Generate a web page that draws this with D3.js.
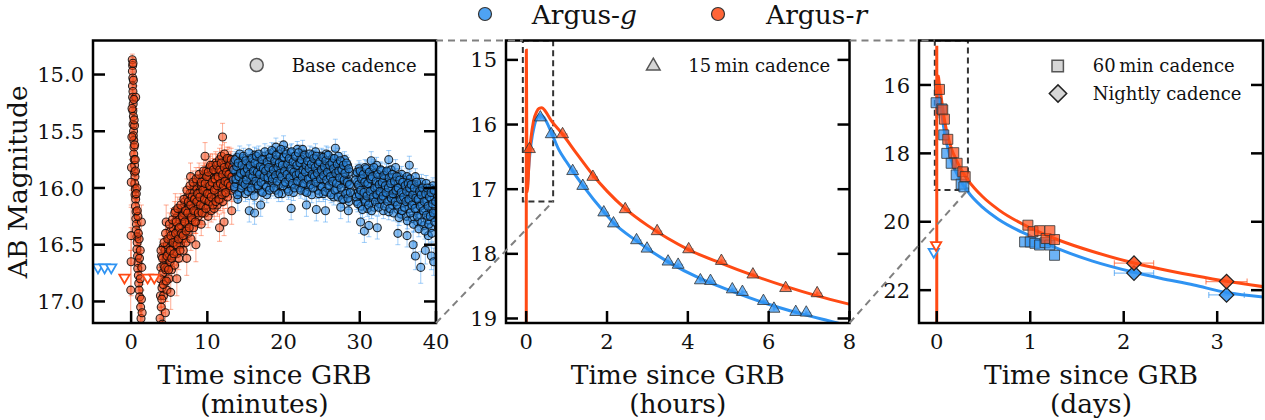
<!DOCTYPE html>
<html>
<head>
<meta charset="utf-8">
<script src="https://cdn.jsdelivr.net/npm/d3@7/dist/d3.min.js"></script>
<style>
html,body{margin:0;padding:0;background:#fff;}
svg{display:block;}
</style>
</head>
<body>
<svg id="chart" width="1265" height="420"></svg>
<script>
// ================= DATA =================
const minuteTicks = [0, 10, 20, 30, 40];
const hourTicks = [0, 2, 4, 6, 8];
const dayTicks = [0, 1, 2, 3];
const magTicks1 = [15.0, 15.5, 16.0, 16.5, 17.0];
const magTicks2 = [15, 16, 17, 18, 19];
const magTicks3 = [16, 18, 20, 22];
const unitLabels = ["(minutes)", "(hours)", "(days)"];
const xLabel = "Time since GRB";
const yLabel = "AB Magnitude";
const bandNames = ["g", "r"];
const cadenceLabels = ["Base cadence", "15\u2009min cadence", "60\u2009min cadence", "Nightly cadence"];

// base cadence (minutes, mag[, err])
const baseErrG = 0.07, baseErrR = 0.1;
const baseRspike = [[0.15,14.87,0.05],[0.2,14.92,0.05],[0.17,14.97,0.05],[0.22,15.03,0.05],[0.18,15.1,0.05],[0.24,15.15,0.06],[0.2,15.2,0.06],[0.27,15.26,0.06],[0.23,15.32,0.06],[0.3,15.37,0.06],[0.26,15.44,0.06],[0.32,15.5,0.07],[0.29,15.54,0.07],[0.35,15.58,0.07],[0.38,15.64,0.07],[0.34,15.7,0.07],[0.41,15.75,0.08],[0.45,15.8,0.08],[0.42,15.86,0.08],[0.5,15.9,0.08],[0.47,15.96,0.08],[0.55,16.01,0.09],[0.52,16.06,0.09],[0.6,16.1,0.09],[0.57,16.16,0.09],[0.65,16.21,0.1],[0.62,16.27,0.1],[0.7,16.32,0.1],[0.67,16.37,0.1],[0.75,16.43,0.11],[0.8,16.48,0.11],[0.77,16.54,0.11],[0.85,16.6,0.12],[0.9,16.66,0.12],[0.87,16.71,0.12],[0.95,16.77,0.13],[1.0,16.84,0.13],[1.05,16.9,0.14],[1.12,16.96,0.14],[1.25,17.05,0.15],[1.3,17.15,0.15],
  [0.0,16.42,0.25],[0.0,16.65,0.3],[-0.05,16.9,0.35],[0.02,15.95,0.2],[0.05,15.82,0.2],[0.1,15.55,0.15],[0.12,15.3,0.12],[0.45,15.45,0.1],[0.55,15.75,0.1],[0.6,15.2,0.1],[1.4,16.7,0.15],[1.45,17.1,0.2],[1.35,16.3,0.15],[1.2,16.55,0.15],[0.9,16.25,0.12],[0.75,16.0,0.1],[1.05,16.45,0.12],
  [0.25,14.9,0.05],[0.3,15.05,0.05],[0.36,15.22,0.06],[0.4,15.4,0.07],[0.46,15.62,0.07],[0.58,15.85,0.08],[0.68,16.05,0.09],[0.8,16.2,0.1],[0.95,16.4,0.11],[1.1,16.62,0.12],[1.2,16.8,0.13],[1.35,16.98,0.15]];
const baseRrise = [[3.8,17.15],[3.85,16.95],[3.9,16.7],[3.95,17.05],[4.0,16.6],[4.05,16.88],[4.1,17.2],[4.15,16.75],[4.2,16.52],[4.25,16.95],[4.3,16.68],[4.4,16.82],[4.45,16.55],[4.5,17.1],[4.55,16.72],[4.6,16.62],[4.7,16.9],[4.75,16.5],[4.8,16.7],[4.9,16.58],[4.95,16.8],[5.0,16.45],[5.1,16.65],[5.15,16.38],[5.2,16.55],[5.3,16.72],[5.35,16.48],[5.4,16.6],[5.5,16.35],[5.55,16.52],[5.6,16.44],[5.7,16.68],[5.75,16.3],[5.8,16.5],[5.9,16.4],[6.0,16.58],[6.05,16.25],[6.1,16.46],[6.2,16.36],[6.25,16.62],[6.3,16.28],[6.4,16.42],[6.45,16.2],[6.5,16.5],[6.6,16.33],[6.65,16.18],[6.7,16.45],[6.8,16.27],[6.85,16.55],[6.9,16.22],[7.0,16.38],[7.05,16.12],[7.1,16.3],[7.2,16.48],[7.25,16.2],[7.3,16.35],[7.4,16.08],[7.45,16.26],[7.5,16.4],[7.6,16.16],[7.65,16.3],[7.7,16.05],[7.8,16.22],[7.85,16.45],[7.9,16.12],[8.0,16.28],[8.05,16.02],[8.1,16.18],[8.2,16.35],[8.25,16.1],[8.3,15.98],[8.4,16.22],[8.45,16.08],[8.5,16.3],[8.6,16.0],[8.65,16.15],[8.7,15.95],[8.8,16.25],[8.85,16.05],[8.9,16.12],[9.0,15.92],[9.05,16.2],[9.1,16.02],[9.2,16.32],[9.25,15.98],[9.3,16.1],[9.4,15.9],[9.45,16.16],[9.5,16.04],[9.6,15.88],[9.65,16.22],[9.7,16.0],[9.8,16.1],[9.85,15.85],[9.9,16.05],[10.0,16.15],[10.05,15.95],[10.1,16.25],[10.2,15.9],[10.25,16.05],[10.3,15.82],[10.4,16.12],[10.45,15.98],[10.5,16.2],[10.6,15.88],[10.65,16.03],[10.7,15.8],[10.8,16.1],[10.85,15.93],[10.9,16.18],[11.0,15.85],[11.05,16.0],[11.1,15.78],[11.2,16.08],[11.25,15.9],[11.3,16.15],[11.4,15.83],[11.45,15.97],[11.5,16.05],[11.6,15.75],[11.65,15.92],[11.7,16.1],[11.8,15.86],[11.85,15.72],[11.9,16.0],[12.0,15.9],[12.05,16.12],[12.1,15.8],[12.2,15.95],[12.25,15.7],[12.3,16.05],[12.4,15.85],[12.45,15.98],[12.5,15.76],[12.6,15.92],[12.65,16.08],[12.7,15.82],[12.8,15.95],[12.85,15.74],[12.9,16.0],[13.0,15.86],[13.05,15.78],[13.1,15.93],[13.2,15.84],[13.25,16.02],[13.3,15.9],
  [4.2,17.3,0.2],[5.2,16.92,0.15],[6.0,16.8,0.15],[7.3,16.62,0.15],[8.5,16.5,0.15],[11.6,16.35,0.12],[12.2,16.3,0.12],[12.0,15.55,0.12],[9.7,15.72,0.12],[7.8,15.9,0.12],[13.2,16.2,0.12],[4.6,16.3,0.15],[5.8,16.2,0.15]];
const baseRrise2 = [[3.82,16.8],[3.92,16.55],[4.02,16.98],[4.12,16.62],[4.22,16.85],[4.32,16.48],[4.42,16.7],[4.52,16.4],[4.62,16.82],[4.72,16.6],[4.82,16.45],[4.92,16.72],[5.02,16.32],[5.12,16.55],[5.22,16.42],[5.32,16.62],[5.42,16.28],[5.52,16.48],[5.62,16.58],[5.72,16.22],[5.82,16.4],[5.92,16.3],[6.02,16.5],[6.12,16.18],[6.22,16.45],[6.32,16.35],[6.42,16.55],[6.52,16.15],[6.62,16.4],[6.72,16.25],[6.82,16.42],[6.92,16.1],[7.02,16.3],[7.12,16.2],[7.22,16.38],[7.32,16.02],[7.42,16.22],[7.52,16.12],[7.62,16.35],[7.72,15.98],[7.82,16.15],[7.92,16.26],[8.02,16.08],[8.12,15.95],[8.22,16.2],[8.32,16.1],[8.42,16.3],[8.52,15.92],[8.62,16.12],[8.72,16.05],[8.82,16.22],[8.92,15.88],[9.02,16.08],[9.12,16.15],[9.22,15.95],[9.32,16.22],[9.42,16.02],[9.52,15.85],[9.62,16.1],[9.72,15.96],[9.82,16.18],[9.92,15.9],[10.02,16.05],[10.12,15.86],[10.22,16.12],[10.32,15.98],[10.42,15.8],[10.52,16.08],[10.62,15.95],[10.72,16.15],[10.82,15.84],[10.92,16.02],[11.02,15.92],[11.12,16.12],[11.22,15.8],[11.32,15.98],[11.42,15.9],[11.52,16.1],[11.62,15.84],[11.72,15.96],[11.82,15.78],[11.92,16.06],[12.02,15.88],[12.12,15.98],[12.22,15.82],[12.32,15.94],[12.42,16.04],[12.52,15.86],[12.62,15.74],[12.72,15.96],[12.82,15.88],[12.92,15.8],[13.02,15.98],[13.12,15.75],[13.22,15.9],[13.32,15.82]];
const baseG = [[13.4,15.93],[13.5,15.77],[13.6,16.01],[13.7,15.86],[13.8,15.96],[13.9,15.73],[14.0,15.89],[14.1,15.81],[14.2,16.04],[14.3,15.76],[14.4,15.94],[14.5,15.88],[14.6,15.98],[14.7,15.74],[14.8,15.91],[14.9,15.83],[15.0,16.05],[15.1,15.78],[15.2,15.86],[15.3,15.99],[15.4,15.81],[15.5,15.96],[15.6,15.74],[15.7,15.91],[15.8,15.84],[15.9,16.02],[16.0,15.77],[16.1,15.94],[16.2,15.71],[16.3,15.89],[16.4,15.97],[16.5,15.78],[16.6,16.0],[16.7,15.82],[16.8,15.92],[16.9,15.74],[17.0,15.86],[17.1,16.03],[17.2,15.79],[17.3,15.89],[17.4,15.97],[17.5,15.72],[17.6,15.9],[17.7,15.8],[17.8,16.06],[17.9,15.83],[18.0,15.93],[18.1,15.7],[18.2,15.87],[18.3,16.0],[18.4,15.76],[18.5,15.95],[18.6,15.81],[18.7,15.68],[18.8,15.91],[18.9,15.85],[19.0,16.02],[19.1,15.75],[19.2,15.88],[19.3,15.79],[19.4,15.97],[19.5,15.7],[19.6,15.92],[19.7,15.83],[19.8,16.05],[19.9,15.73],[20.0,15.86],[20.1,15.96],[20.2,15.67],[20.3,15.9],[20.4,15.8],[20.5,16.01],[20.6,15.76],[20.7,15.93],[20.8,15.85],[20.9,15.69],[21.0,15.98],[21.1,15.78],[21.2,15.89],[21.3,16.04],[21.4,15.72],[21.5,15.87],[21.6,15.81],[21.7,15.95],[21.8,15.66],[21.9,15.9],[22.0,15.84],[22.1,16.0],[22.2,15.74],[22.3,15.92],[22.4,15.79],[22.5,15.97],[22.6,15.7],[22.7,15.88],[22.8,16.03],[22.9,15.8],[23.0,15.93],[23.1,15.73],[23.2,15.86],[23.3,15.99],[23.4,15.77],[23.5,15.91],[23.6,15.83],[23.7,16.06],[23.8,15.71],[23.9,15.89],[24.0,15.8],[24.1,15.96],[24.2,15.68],[24.3,15.92],[24.4,15.85],[24.5,16.02],[24.6,15.75],[24.7,15.9],[24.8,15.82],[24.9,15.98],[25.0,15.72],[25.1,15.87],[25.2,16.05],[25.3,15.79],[25.4,15.94],[25.5,15.84],[25.6,15.7],[25.7,16.0],[25.8,15.81],[25.9,15.91],[26.0,15.76],[26.1,16.04],[26.2,15.86],[26.3,15.95],[26.4,15.74],[26.5,15.89],[26.6,16.08],[26.7,15.8],[26.8,15.93],[26.9,15.78],[27.0,16.01],[27.1,15.85],[27.2,15.72],[27.3,15.97],[27.4,15.83],[27.5,16.06],[27.6,15.77],[27.7,15.92],[27.8,15.88],[27.9,16.1],[28.0,15.75],[28.1,15.96],[28.2,15.84],[28.3,16.03],[28.4,15.8],[28.5,15.94],[28.6,16.12],[28.7,15.86],[28.8,15.98],
  [15.5,16.2,0.1],[16.2,16.22,0.1],[21.0,16.18,0.1],[23.0,16.15,0.1],[25.5,16.2,0.1],[27.5,16.17,0.1],[19.0,15.64,0.08],[20.0,15.62,0.08],[22.5,15.66,0.08],[17.0,16.15,0.1],[26.8,15.65,0.08],[24.3,16.19,0.1],[14.0,16.1,0.1],[28.5,16.2,0.1],
  [29.4,16.05],[29.5,15.88],[29.6,16.12],[29.7,15.95],[29.8,16.04],[29.9,15.83],[30.0,16.0],[30.1,15.9],[30.2,16.16],[30.3,15.86],[30.4,16.07],[30.5,15.96],[30.6,16.1],[30.7,15.82],[30.8,16.01],[30.9,15.92],[31.0,16.18],[31.1,15.88],[31.2,15.97],[31.3,16.13],[31.4,15.9],[31.5,16.06],[31.6,15.84],[31.7,16.02],[31.8,15.94],[31.9,16.17],[32.0,15.87],[32.1,16.05],[32.2,15.8],[32.3,15.99],[32.4,16.09],[32.5,15.9],[32.6,16.14],[32.7,15.93],[32.8,16.04],[32.9,15.85],[33.0,15.98],[33.1,16.2],[33.2,15.92],[33.3,16.02],[33.4,16.1],[33.5,15.86],[33.6,16.05],[33.7,15.95],[33.8,16.21],[33.9,15.96],[34.0,16.08],[34.1,15.84],[34.2,16.01],[34.3,16.15],[34.4,15.91],[34.5,16.1],[34.6,15.97],[34.7,15.82],[34.8,16.06],[34.9,16.0],[35.0,16.19],[35.1,15.9],[35.2,16.05],[35.3,15.96],[35.4,16.23],[35.5,15.88],[35.6,16.03],[35.7,16.13],[35.8,15.93],[35.9,16.09],[36.0,15.99],[36.1,16.25],[36.2,15.9],[36.3,16.07],[36.4,15.95],[36.5,16.18],[36.6,15.92],[36.7,16.11],[36.8,16.02],[36.9,16.27],[37.0,15.97],[37.1,16.14],[37.2,16.03],[37.3,15.9],[37.4,16.2],[37.5,16.06],[37.6,16.3],[37.7,15.98],[37.8,16.12],[37.9,16.0],[38.0,16.24],[38.1,15.95],[38.2,16.15],[38.3,16.07],[38.4,16.33],[38.5,16.02],[38.6,16.19],[38.7,15.96],[38.8,16.11],[38.9,16.28],[39.0,16.04],[39.1,16.21],[39.2,16.0],[39.3,16.35],[39.4,16.1],[39.5,16.17],[39.6,15.98],[39.7,16.26],[39.8,16.08],[39.9,16.22],
  [30.1,16.3,0.1],[30.6,16.38,0.1],[31.2,16.33,0.1],[36.2,16.42,0.1],[37.0,16.5,0.12],[37.3,16.6,0.12],[38.0,16.7,0.14],[38.6,16.55,0.12],[39.4,16.6,0.12],[39.7,16.65,0.12],[39.0,16.42,0.1],[35.0,16.4,0.1],[33.8,15.75,0.08],[31.5,15.76,0.08],[36.5,15.8,0.08],[32.3,16.35,0.1]];
const baseG2 = [[13.45,15.84],[13.55,15.99],[13.65,15.75],[13.75,15.92],[13.85,15.81],[13.95,16.06],[14.05,15.78],[14.15,15.9],[14.25,15.7],[14.35,15.87],[14.45,16.0],[14.55,15.8],[14.65,15.95],[14.75,15.72],[14.85,15.86],[14.95,15.97],[15.05,15.76],[15.15,15.93],[15.25,15.83],[15.35,16.03],[15.45,15.69],[15.55,15.88],[15.65,15.8],[15.75,16.0],[15.85,15.74],[15.95,15.9],[16.05,15.85],[16.15,16.07],[16.25,15.78],[16.35,15.94],[16.45,15.72],[16.55,15.86],[16.65,15.98],[16.75,15.7],[16.85,15.88],[16.95,15.81],[17.05,15.95],[17.15,15.75],[17.25,16.04],[17.35,15.83],[17.45,15.9],[17.55,15.68],[17.65,15.85],[17.75,15.99],[17.85,15.77],[17.95,15.91],[18.05,15.82],[18.15,16.02],[18.25,15.73],[18.35,15.88],[18.45,15.67],[18.55,15.92],[18.65,15.84],[18.75,16.0],[18.85,15.76],[18.95,15.89],[19.05,15.71],[19.15,15.94],[19.25,15.82],[19.35,16.05],[19.45,15.78],[19.55,15.87],[19.65,15.66],[19.75,15.9],[19.85,15.8],[19.95,15.98],[20.05,15.73],[20.15,15.85],[20.25,15.95],[20.35,15.7],[20.45,15.88],[20.55,15.79],[20.65,16.03],[20.75,15.74],[20.85,15.91],[20.95,15.83],[21.05,15.68],[21.15,15.96],[21.25,15.77],[21.35,15.86],[21.45,16.0],[21.55,15.72],[21.65,15.89],[21.75,15.8],[21.85,15.94],[21.95,15.69],[22.05,15.87],[22.15,15.78],[22.25,16.02],[22.35,15.75],[22.45,15.9],[22.55,15.84],[22.65,15.96],[22.75,15.71],[22.85,15.86],[22.95,15.8],[23.05,16.04],[23.15,15.76],[23.25,15.92],[23.35,15.83],[23.45,15.7],[23.55,15.97],[23.65,15.79],[23.75,15.88],[23.85,16.0],[23.95,15.74],[24.05,15.9],[24.15,15.82],[24.25,15.95],[24.35,15.72],[24.45,15.87],[24.55,15.79],[24.65,16.05],[24.75,15.77],[24.85,15.92],[24.95,15.84],[25.05,15.99],[25.15,15.73],[25.25,15.89],[25.35,15.81],[25.45,16.03],[25.55,15.76],[25.65,15.93],[25.75,15.86],[25.85,15.71],[25.95,15.98],[26.05,15.8],[26.15,15.9],[26.25,16.06],[26.35,15.78],[26.45,15.94],[26.55,15.83],[26.65,15.74],[26.75,16.02],[26.85,15.87],[26.95,15.96],[27.05,15.79],[27.15,16.08],[27.25,15.85],[27.35,15.91],[27.45,15.76],[27.55,16.0],[27.65,15.84],[27.75,16.1],[27.85,15.8],[27.95,15.93],[28.05,15.87],[28.15,16.05],[28.25,15.78],[28.35,15.95],[28.45,16.09],[28.55,15.83],[28.65,15.97],[28.75,16.04],
  [29.45,15.93],[29.55,16.08],[29.65,15.86],[29.75,16.14],[29.85,15.97],[29.95,16.06],[30.05,15.85],[30.15,16.02],[30.25,15.92],[30.35,16.19],[30.45,15.88],[30.55,16.04],[30.65,15.95],[30.75,16.12],[30.85,15.83],[30.95,16.07],[31.05,15.96],[31.15,16.15],[31.25,15.86],[31.35,16.03],[31.45,15.92],[31.55,16.2],[31.65,15.9],[31.75,16.08],[31.85,15.82],[31.95,16.0],[32.05,16.12],[32.15,15.94],[32.25,16.06],[32.35,15.88],[32.45,16.17],[32.55,15.97],[32.65,16.03],[32.75,15.84],[32.85,16.1],[32.95,15.95],[33.05,16.07],[33.15,15.89],[33.25,16.16],[33.35,15.98],[33.45,16.04],[33.55,15.85],[33.65,16.12],[33.75,16.0],[33.85,15.91],[33.95,16.18],[34.05,15.96],[34.15,16.09],[34.25,15.88],[34.35,16.05],[34.45,16.22],[34.55,15.94],[34.65,16.12],[34.75,16.02],[34.85,15.9],[34.95,16.15],[35.05,16.0],[35.15,16.26],[35.25,15.93],[35.35,16.1],[35.45,16.04],[35.55,16.2],[35.65,15.95],[35.75,16.08],[35.85,16.17],[35.95,15.98],[36.05,16.12],[36.15,16.03],[36.25,16.29],[36.35,15.96],[36.45,16.1],[36.55,16.0],[36.65,16.22],[36.75,15.97],[36.85,16.15],[36.95,16.06],[37.05,16.32],[37.15,16.0],[37.25,16.18],[37.35,16.09],[37.45,15.95],[37.55,16.25],[37.65,16.1],[37.75,16.36],[37.85,16.03],[37.95,16.16],[38.05,16.06],[38.15,16.3],[38.25,16.0],[38.35,16.2],[38.45,16.12],[38.55,16.38],[38.65,16.05],[38.75,16.24],[38.85,16.0],[38.95,16.16],[39.05,16.32],[39.15,16.08],[39.25,16.25],[39.35,16.04],[39.45,16.4],[39.55,16.14],[39.65,16.22],[39.75,16.02],[39.85,16.3],[39.95,16.12]];
// pre-burst upper limits (minutes, mag)
const limBaseG = [[-4.35,16.70],[-3.48,16.70],[-2.61,16.70]];
const limBaseR = [[-0.87,16.79],[2.17,16.79],[3.04,16.79]];

// 15 min cadence (hours, mag)
const cad15G = [[0.35,15.89],[0.62,16.15],[1.15,16.72],[1.40,16.95],[1.92,17.36],[2.16,17.53],[2.73,17.79],[2.99,17.92],[3.51,18.12],[3.76,18.17],[4.31,18.41],[4.56,18.42],[5.10,18.55],[5.35,18.59],[5.87,18.73],[6.13,18.85],[6.67,18.90],[6.93,18.91]];
const cad15R = [[0.08,16.38],[0.90,16.15],[1.65,16.81],[2.45,17.31],[3.24,17.65],[4.02,17.93],[4.83,18.11],[5.61,18.32],[6.42,18.53],[7.20,18.61]];
const cad15Err = 0.03, cad15Xerr = 0.125;

// 60 min cadence (days, mag)
const cad60G = [[-0.007,16.52],[0.054,16.70],[0.075,17.46],[0.107,18.00],[0.154,18.29],[0.208,18.63],[0.261,18.90],[0.29,18.98],[0.94,20.59],[1.00,20.59],[1.05,20.63],[1.10,20.68],[1.16,20.61],[1.21,20.68],[1.26,20.98]];
const cad60R = [[0.029,16.13],[0.064,16.73],[0.082,17.00],[0.118,17.59],[0.182,17.98],[0.218,18.29],[0.279,18.54],[0.304,18.68],[0.975,20.10],[1.03,20.29],[1.10,20.26],[1.17,20.49],[1.21,20.26],[1.26,20.52]];
// nightly (days, mag, xerr days)
const nightG = [[2.11,21.50,0.21],[3.10,22.14,0.19]];
const nightR = [[2.11,21.21,0.21],[3.10,21.75,0.22]];
const limDayG = [[-0.032,20.88]];
const limDayR = [[-0.007,20.68]];

// afterglow model (hours, mag)
const modelG = [[0.03,16.97],[0.07,16.6],[0.12,16.3],[0.2,16.02],[0.28,15.88],[0.35,15.85],[0.45,15.9],[0.62,16.12],[0.8,16.38],[1.0,16.58],[1.15,16.72],[1.4,16.94],[1.92,17.35],[2.16,17.52],[2.73,17.8],[3.0,17.92],[3.5,18.12],[4.3,18.38],[5.1,18.58],[5.9,18.76],[6.7,18.91],[7.7,19.07],[8.0,19.12],[11.8,19.58],[16,19.94],[24,20.42],[31.4,20.8],[40,21.15],[50.4,21.47],[57.4,21.65],[66,21.85],[74.4,22.07],[84,22.2]];
const modelR = [[0,24],[0.004,14.85],[0.012,16.0],[0.02,17.05],[0.04,16.95],[0.06,16.7],[0.08,16.45],[0.12,16.2],[0.18,15.95],[0.26,15.8],[0.32,15.75],[0.39,15.74],[0.47,15.79],[0.62,15.94],[0.9,16.15],[1.25,16.45],[1.65,16.78],[2.0,17.03],[2.45,17.3],[3.0,17.56],[3.5,17.76],[4.0,17.93],[4.8,18.14],[5.6,18.33],[6.4,18.5],[7.2,18.65],[8.0,18.78],[11.8,19.27],[16,19.66],[24,20.18],[31.4,20.54],[40,20.87],[50.4,21.2],[57.4,21.38],[66,21.57],[74.4,21.74],[84,21.9]];

// ================= DRAWING =================
const FONT = "'DejaVu Serif', 'Liberation Serif', serif";
const COL = {g: "#2f93f2", r: "#ff4a14"};
const BASEFILL = {g: "#2a86e0", r: "#f04412"};
const svg = d3.select("#chart");
const defs = svg.append("defs");

const P = [
  {L: 93, R: 436, T: 40.5, B: 323, xd: [-5, 40], yd: [14.7, 17.19], xt: minuteTicks, yt: magTicks1, yf: d3.format(".1f")},
  {L: 506, R: 849.5, T: 40.5, B: 323, xd: [-0.5, 8], yd: [14.7, 19.07], xt: hourTicks, yt: magTicks2, yf: d3.format("d")},
  {L: 919, R: 1263, T: 40.5, B: 323, xd: [-0.19, 3.49], yd: [14.7, 22.96], xt: dayTicks, yt: magTicks3, yf: d3.format("d")}
];
P.forEach((p, i) => {
  p.x = d3.scaleLinear().domain(p.xd).range([p.L, p.R]);
  p.y = d3.scaleLinear().domain(p.yd).range([p.T, p.B]);
  defs.append("clipPath").attr("id", "clip" + i).append("rect")
    .attr("x", p.L).attr("y", p.T).attr("width", p.R - p.L).attr("height", p.B - p.T);
  p.g = svg.append("g");
  p.plot = p.g.append("g").attr("clip-path", `url(#clip${i})`);
});

function errV(g, x, y1, y2, color, cap, op, sw) {
  g.append("line").attr("x1", x).attr("x2", x).attr("y1", y1).attr("y2", y2)
    .attr("stroke", color).attr("stroke-opacity", op).attr("stroke-width", sw);
  if (cap > 0) [y1, y2].forEach(yy => g.append("line").attr("x1", x - cap).attr("x2", x + cap)
    .attr("y1", yy).attr("y2", yy).attr("stroke", color).attr("stroke-opacity", op).attr("stroke-width", sw));
}
function errH(g, x1, x2, y, color, cap, op, sw) {
  g.append("line").attr("x1", x1).attr("x2", x2).attr("y1", y).attr("y2", y)
    .attr("stroke", color).attr("stroke-opacity", op).attr("stroke-width", sw);
  if (cap > 0) [x1, x2].forEach(xx => g.append("line").attr("x1", xx).attr("x2", xx)
    .attr("y1", y - cap).attr("y2", y + cap).attr("stroke", color).attr("stroke-opacity", op).attr("stroke-width", sw));
}
const triUp = d3.symbol().type(d3.symbolTriangle);
const square = d3.symbol().type(d3.symbolSquare);

// ---------- Panel 1 ----------
(function () {
  const p = P[0], g = p.plot;
  const ebR = g.append("g"), mkR = g.append("g"), ebG = g.append("g"), mkG = g.append("g");
  function base(data, band, defErr) {
    const eb = band === "g" ? ebG : ebR, mk = band === "g" ? mkG : mkR;
    data.forEach(d => {
      const e = d[2] !== undefined ? d[2] : defErr;
      errV(eb, p.x(d[0]), p.y(d[1] - e), p.y(d[1] + e), COL[band], 2.5, 0.45, 1);
    });
    mk.selectAll(null).data(data).enter().append("circle")
      .attr("cx", d => p.x(d[0])).attr("cy", d => p.y(d[1])).attr("r", 4)
      .attr("fill", BASEFILL[band]).attr("fill-opacity", 0.55)
      .attr("stroke", "#0a0a0a").attr("stroke-opacity", 0.85).attr("stroke-width", 1.1);
  }
  base(baseRrise, "r", baseErrR);
  base(baseRrise2, "r", baseErrR);
  base(baseRspike, "r", baseErrR);
  base(baseG, "g", baseErrG);
  base(baseG2, "g", baseErrG);
  [[limBaseG, "g"], [limBaseR, "r"]].forEach(([arr, band]) => {
    g.selectAll(null).data(arr).enter().append("path")
      .attr("d", triUp.size(46)())
      .attr("transform", d => `translate(${p.x(d[0])},${p.y(d[1])}) rotate(180)`)
      .attr("fill", "#fff").attr("stroke", COL[band]).attr("stroke-width", 1.8);
  });
})();

// ---------- Panel 2 ----------
(function () {
  const p = P[1], g = p.plot, q = P[0];
  g.append("rect").attr("x", p.x(q.xd[0] / 60)).attr("y", p.y(q.yd[0]))
    .attr("width", p.x(q.xd[1] / 60) - p.x(q.xd[0] / 60)).attr("height", p.y(q.yd[1]) - p.y(q.yd[0]))
    .attr("fill", "none").attr("stroke", "#333").attr("stroke-width", 2).attr("stroke-dasharray", "6,4");
  const line = d3.line().x(d => p.x(d[0])).y(d => p.y(d[1])).curve(d3.curveMonotoneX);
  g.append("path").attr("d", line(modelG)).attr("fill", "none").attr("stroke", COL.g).attr("stroke-width", 3);
  g.append("path").attr("d", line(modelR)).attr("fill", "none").attr("stroke", COL.r).attr("stroke-width", 3);
  [[cad15G, "g"], [cad15R, "r"]].forEach(([arr, band]) => {
    arr.forEach(d => {
      errH(g, p.x(d[0] - cad15Xerr / 4), p.x(d[0] + cad15Xerr), p.y(d[1]), COL[band], 0, 0.45, 2);
      errV(g, p.x(d[0]), p.y(d[1] - cad15Err), p.y(d[1] + cad15Err), COL[band], 0, 0.45, 2);
    });
    g.selectAll(null).data(arr).enter().append("path")
      .attr("d", triUp.size(62)())
      .attr("transform", d => `translate(${p.x(d[0])},${p.y(d[1])})`)
      .attr("fill", COL[band]).attr("fill-opacity", 0.72)
      .attr("stroke", "#333").attr("stroke-opacity", 0.8).attr("stroke-width", 1);
  });
})();

// ---------- Panel 3 ----------
(function () {
  const p = P[2], g = p.plot, q = P[1];
  g.append("rect").attr("x", p.x(q.xd[0] / 24)).attr("y", p.y(q.yd[0]))
    .attr("width", p.x(q.xd[1] / 24) - p.x(q.xd[0] / 24)).attr("height", p.y(q.yd[1]) - p.y(q.yd[0]))
    .attr("fill", "none").attr("stroke", "#333").attr("stroke-width", 2).attr("stroke-dasharray", "6,4");
  const line = d3.line().x(d => p.x(d[0] / 24)).y(d => p.y(d[1])).curve(d3.curveMonotoneX);
  g.append("path").attr("d", line(modelG)).attr("fill", "none").attr("stroke", COL.g).attr("stroke-width", 3);
  g.append("path").attr("d", line(modelR)).attr("fill", "none").attr("stroke", COL.r).attr("stroke-width", 3);
  [[limDayG, "g"], [limDayR, "r"]].forEach(([arr, band]) => {
    g.selectAll(null).data(arr).enter().append("path")
      .attr("d", triUp.size(46)())
      .attr("transform", d => `translate(${p.x(d[0])},${p.y(d[1])}) rotate(180)`)
      .attr("fill", "#fff").attr("stroke", COL[band]).attr("stroke-width", 1.8);
  });
  [[cad60G, "g"], [cad60R, "r"]].forEach(([arr, band]) => {
    g.selectAll(null).data(arr).enter().append("path")
      .attr("d", square.size(100)())
      .attr("transform", d => `translate(${p.x(d[0])},${p.y(d[1])})`)
      .attr("fill", COL[band]).attr("fill-opacity", 0.7)
      .attr("stroke", "#333").attr("stroke-opacity", 0.8).attr("stroke-width", 1);
  });
  [[nightG, "g"], [nightR, "r"]].forEach(([arr, band]) => {
    arr.forEach(d => errH(g, p.x(d[0] - d[2]), p.x(d[0] + d[2]), p.y(d[1]), COL[band], 3, 0.6, 1.2));
    g.selectAll(null).data(arr).enter().append("path")
      .attr("d", square.size(105)())
      .attr("transform", d => `translate(${p.x(d[0])},${p.y(d[1])}) rotate(45)`)
      .attr("fill", COL[band]).attr("fill-opacity", 0.85)
      .attr("stroke", "#222").attr("stroke-width", 1.2);
  });
})();

// ---------- Frames, ticks, labels ----------
P.forEach((p, i) => {
  const g = p.g, TL = 12;
  p.xt.forEach(v => g.append("line").attr("x1", p.x(v)).attr("x2", p.x(v)).attr("y1", p.B).attr("y2", p.B - TL)
    .attr("stroke", "#000").attr("stroke-width", 2.5));
  p.yt.forEach(v => {
    g.append("line").attr("x1", p.L).attr("x2", p.L + TL).attr("y1", p.y(v)).attr("y2", p.y(v)).attr("stroke", "#000").attr("stroke-width", 2.5);
    g.append("line").attr("x1", p.R).attr("x2", p.R - TL).attr("y1", p.y(v)).attr("y2", p.y(v)).attr("stroke", "#000").attr("stroke-width", 2.5);
  });
  g.append("rect").attr("x", p.L).attr("y", p.T).attr("width", p.R - p.L).attr("height", p.B - p.T)
    .attr("fill", "none").attr("stroke", "#000").attr("stroke-width", 2.5);
  g.selectAll(null).data(p.xt).enter().append("text")
    .attr("x", d => p.x(d)).attr("y", 349).attr("text-anchor", "middle")
    .attr("font-family", FONT).attr("font-size", 21).attr("fill", "#111").text(d => d3.format("d")(d));
  g.selectAll(null).data(p.yt).enter().append("text")
    .attr("x", p.L - 9).attr("y", d => p.y(d)).attr("dy", "0.36em").attr("text-anchor", "end")
    .attr("font-family", FONT).attr("font-size", 21).attr("fill", "#111").text(d => p.yf(d));
  const cx = (p.L + p.R) / 2;
  g.append("text").attr("x", cx).attr("y", 384).attr("text-anchor", "middle")
    .attr("font-family", FONT).attr("font-size", 26.5).attr("fill", "#111").text(xLabel);
  g.append("text").attr("x", cx).attr("y", 413).attr("text-anchor", "middle")
    .attr("font-family", FONT).attr("font-size", 26.5).attr("fill", "#111").text(unitLabels[i]);
});
svg.append("text").attr("transform", `translate(27,${(P[0].T + P[0].B) / 2}) rotate(-90)`)
  .attr("text-anchor", "middle").attr("font-family", FONT).attr("font-size", 26.5).attr("fill", "#111").text(yLabel);

// ---------- connectors ----------
const conn = svg.append("g").attr("stroke", "#808080").attr("stroke-width", 2).attr("stroke-dasharray", "7,5").attr("fill", "none");
[[0, 1, 60], [1, 2, 24]].forEach(([a, b, f]) => {
  const A = P[a], Bp = P[b];
  conn.append("line").attr("x1", A.R).attr("y1", A.T).attr("x2", Bp.x(A.xd[0] / f)).attr("y2", Bp.y(A.yd[0]));
  conn.append("line").attr("x1", A.R).attr("y1", A.B).attr("x2", Bp.x(A.xd[1] / f)).attr("y2", Bp.y(A.yd[1]));
});

// ---------- legends ----------
const topLeg = [{cx: 485, tx: 531.7}, {cx: 718, tx: 766}];
bandNames.forEach((b, i) => {
  svg.append("circle").attr("cx", topLeg[i].cx).attr("cy", 14).attr("r", 6.5)
    .attr("fill", COL[b]).attr("fill-opacity", 0.85).attr("stroke", "#333").attr("stroke-width", 1.2);
  const t = svg.append("text").attr("x", topLeg[i].tx).attr("y", 24)
    .attr("font-family", FONT).attr("font-size", 26.5).attr("fill", "#111");
  t.append("tspan").text("Argus-");
  t.append("tspan").attr("font-style", "italic").text(b);
});
const legFill = "#d6d6d6", legStroke = "#555";
svg.append("circle").attr("cx", 256.7).attr("cy", 65).attr("r", 6.5).attr("fill", legFill).attr("stroke", legStroke).attr("stroke-width", 1.5);
svg.append("path").attr("d", triUp.size(80)()).attr("transform", "translate(653.3,66)").attr("fill", legFill).attr("stroke", legStroke).attr("stroke-width", 1.5);
svg.append("path").attr("d", square.size(130)()).attr("transform", "translate(1057.7,66)").attr("fill", legFill).attr("stroke", legStroke).attr("stroke-width", 1.5);
svg.append("path").attr("d", square.size(150)()).attr("transform", "translate(1058,93.5) rotate(45)").attr("fill", legFill).attr("stroke", "#222").attr("stroke-width", 1.5);
const legText = [[291.7, 71.5], [688.3, 72], [1092.7, 72], [1092.7, 100]];
cadenceLabels.forEach((s, i) => svg.append("text").attr("x", legText[i][0]).attr("y", legText[i][1])
  .attr("font-family", FONT).attr("font-size", 18).attr("fill", "#111").text(s));
</script>
</body>
</html>
